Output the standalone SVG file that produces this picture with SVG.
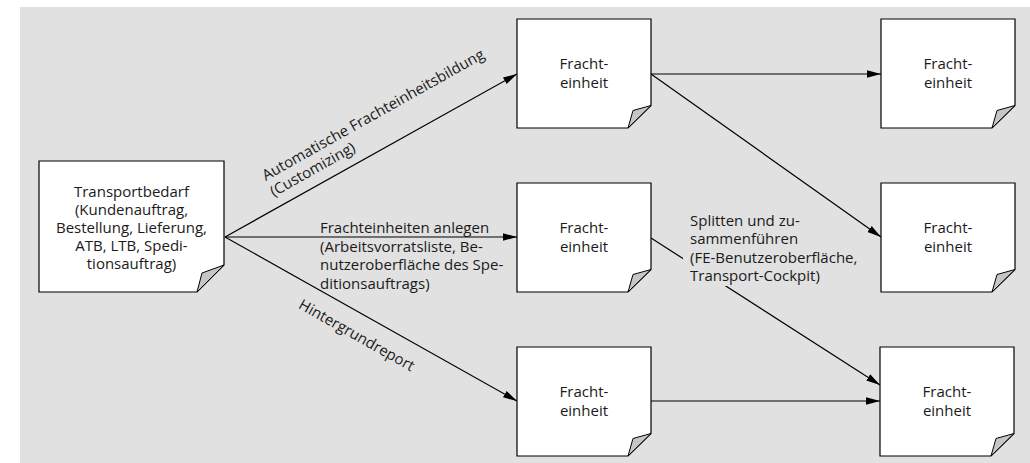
<svg xmlns="http://www.w3.org/2000/svg" width="1030" height="463" viewBox="0 0 1030 463">
<style>
.bg{fill:#e1e1e1}
.page{fill:#fff;stroke:#000;stroke-width:1.2}
.fold{fill:#c6c6c6;stroke:#000;stroke-width:1}
.t{font-family:"Open Sans","Noto Sans",sans-serif;font-size:15px;fill:#1a1a1a}
.c{text-anchor:middle}
.ln{stroke:#000;stroke-width:1.2;fill:none;marker-end:url(#ah)}
</style>
<defs>
<marker id="ah" markerUnits="userSpaceOnUse" markerWidth="14" markerHeight="10" viewBox="0 0 14 10" refX="14" refY="5" orient="auto">
<path d="M0,1.3 L14,5 L0,8.7 Z" fill="#000"/>
</marker>
</defs>
<rect class="bg" x="20" y="7" width="1010" height="456"/>

<g id="connectors">
<line class="ln" x1="651" y1="238" x2="880" y2="385"/>
<rect class="bg" x="683" y="205" width="150" height="81"/>
<line class="ln" x1="225" y1="237" x2="517" y2="74"/>
<line class="ln" x1="225" y1="237" x2="517" y2="237"/>
<line class="ln" x1="225" y1="237" x2="517" y2="401"/>
<line class="ln" x1="651" y1="74" x2="881" y2="74"/>
<line class="ln" x1="651" y1="74" x2="881" y2="237"/>
<line class="ln" x1="651" y1="401" x2="880" y2="401"/>
<g transform="translate(225,237) rotate(-29.3)">
<text class="t" x="63" y="-29">Automatische Frachteinheitsbildung</text>
<text class="t" x="62" y="-11">(Customizing)</text>
</g>
<text class="t" x="320" y="233">Frachteinheiten anlegen</text>
<text class="t" x="320" y="251.5">(Arbeitsvorratsliste, Be-</text>
<text class="t" x="320" y="270">nutzeroberfläche des Spe-</text>
<text class="t" x="320" y="288.5">ditionsauftrags)</text>
<g transform="translate(225,237) rotate(29.4)">
<text class="t" x="98" y="26">Hintergrundreport</text>
</g>
<text class="t" x="690" y="226">Splitten und zu-</text>
<text class="t" x="690" y="244.3">sammenführen</text>
<text class="t" x="690" y="262.6">(FE-Benutzeroberfläche,</text>
<text class="t" x="690" y="281">Transport-Cockpit)</text>
</g>

<g id="source">
<path class="page" d="M39,161 H224 V265 L197,292 H39 Z"/>
<path class="fold" d="M197,292 L202,273 L224,265 Z"/>
<text class="t c" x="131.5" y="196.5">Transportbedarf</text>
<text class="t c" x="131.5" y="214.5">(Kundenauftrag,</text>
<text class="t c" x="131.5" y="232.5">Bestellung, Lieferung,</text>
<text class="t c" x="131.5" y="250.5">ATB, LTB, Spedi-</text>
<text class="t c" x="131.5" y="268.5">tionsauftrag)</text>
</g>

<g id="fe1">
<path class="page" d="M517,19 H651 V105.5 L628,128 H517 Z"/>
<path class="fold" d="M628,128 L633,110.5 L651,105.5 Z"/>
<text class="t c" x="584" y="69.3">Fracht-</text>
<text class="t c" x="584" y="88">einheit</text>
</g>
<g id="fe2">
<path class="page" d="M517,183 H651 V269.5 L628,292 H517 Z"/>
<path class="fold" d="M628,292 L633,274.5 L651,269.5 Z"/>
<text class="t c" x="584" y="233.3">Fracht-</text>
<text class="t c" x="584" y="252">einheit</text>
</g>
<g id="fe3">
<path class="page" d="M517,347 H651 V433.5 L628,456 H517 Z"/>
<path class="fold" d="M628,456 L633,438.5 L651,433.5 Z"/>
<text class="t c" x="584" y="397.3">Fracht-</text>
<text class="t c" x="584" y="416">einheit</text>
</g>
<g id="fe4">
<path class="page" d="M881,19 H1015 V105.5 L992,128 H881 Z"/>
<path class="fold" d="M992,128 L997,110.5 L1015,105.5 Z"/>
<text class="t c" x="948" y="69.3">Fracht-</text>
<text class="t c" x="948" y="88">einheit</text>
</g>
<g id="fe5">
<path class="page" d="M881,183 H1015 V269.5 L992,292 H881 Z"/>
<path class="fold" d="M992,292 L997,274.5 L1015,269.5 Z"/>
<text class="t c" x="948" y="233.3">Fracht-</text>
<text class="t c" x="948" y="252">einheit</text>
</g>
<g id="fe6">
<path class="page" d="M880,347 H1014 V433.5 L991,456 H880 Z"/>
<path class="fold" d="M991,456 L996,438.5 L1014,433.5 Z"/>
<text class="t c" x="947" y="397.3">Fracht-</text>
<text class="t c" x="947" y="416">einheit</text>
</g>
</svg>
